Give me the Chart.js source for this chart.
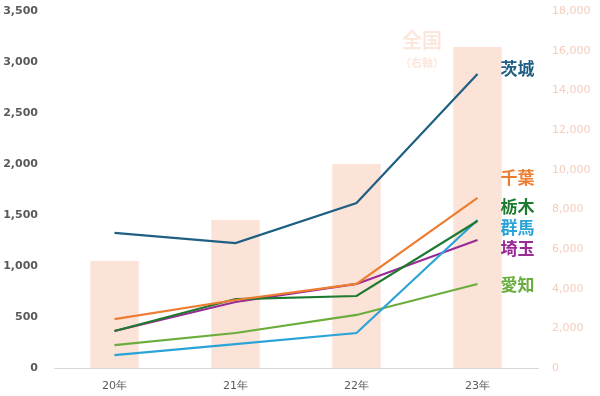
<!DOCTYPE html>
<html>
<head>
<meta charset="utf-8">
<script src="https://cdn.jsdelivr.net/npm/chart.js@4/dist/chart.umd.min.js"></script>
<style>
body { margin: 0; background: #fff; }
#wrap { width: 600px; height: 396px; }
</style>
</head>
<body>
<div id="wrap"><canvas id="c1"></canvas></div>
<script>
var years = ['20年', '21年', '22年', '23年'];
var zenkoku = [5400, 7460, 10290, 16190];
var ibaraki = [1324, 1225, 1618, 2882];
var chiba = [480, 667, 824, 1667];
var tochigi = [363, 676, 706, 1441];
var gunma = [127, 235, 343, 1451];
var saitama = [363, 647, 824, 1255];
var aichi = [225, 343, 520, 824];

var names = ['茨城', '千葉', '栃木', '群馬', '埼玉', '愛知'];
var colors = ['#1f5f82', '#ed7d31', '#1e7a2e', '#2ba3d6', '#9a2a96', '#6aad3d'];
var series = [ibaraki, chiba, tochigi, gunma, saitama, aichi];
// label y pixel (spread out so they don't overlap)
var labelY = [69, 178, 207, 228, 249, 285];

var datasets = [];
for (var i = 0; i < series.length; i++) {
  datasets.push({
    type: 'line', label: names[i], data: series[i], yAxisID: 'y',
    borderColor: colors[i], backgroundColor: colors[i],
    borderWidth: 2.2, pointRadius: 0, tension: 0, order: 1
  });
}
datasets.push({
  type: 'bar', label: '全国', data: zenkoku, yAxisID: 'y2',
  backgroundColor: '#fbe3d8', barPercentage: 0.4, categoryPercentage: 1.0, order: 2
});

var labelPlugin = {
  id: 'labels',
  afterDatasetsDraw: function(chart) {
    var ctx = chart.ctx;
    var xs = chart.scales.x;
    var lastX = xs.getPixelForValue(years.length - 1);
    ctx.save();
    ctx.textBaseline = 'middle';
    ctx.textAlign = 'left';
    ctx.font = 'bold 17px "Noto Sans CJK JP"';
    for (var i = 0; i < names.length; i++) {
      ctx.fillStyle = colors[i];
      ctx.fillText(names[i], lastX + 23, labelY[i]);
    }
    ctx.restore();
  },
  beforeDatasetsDraw: function(chart) {
    var ctx = chart.ctx;
    ctx.save();
    ctx.textAlign = 'center';
    ctx.textBaseline = 'middle';
    ctx.fillStyle = '#fce7de';
    ctx.font = 'bold 20px "Noto Sans CJK JP"';
    ctx.fillText('全国', 422, 40);
    ctx.font = 'bold 11px "Noto Sans CJK JP"';
    ctx.fillText('（右軸）', 422, 63);
    ctx.restore();
  }
};

function fitY(w) {
  return function(s) { s.width = w; s.paddingTop = 0; s.paddingBottom = 0; };
}

new Chart(document.getElementById('c1'), {
  type: 'bar',
  data: { labels: years, datasets: datasets },
  plugins: [labelPlugin],
  options: {
    responsive: true,
    maintainAspectRatio: false,
    animation: false,
    layout: { padding: { top: 11, left: 0, right: 0, bottom: 0 } },
    plugins: { legend: { display: false }, tooltip: { enabled: false } },
    scales: {
      x: {
        offset: true,
        grid: { display: false, drawTicks: false },
        border: { color: '#d9d9d9', width: 1 },
        ticks: { color: '#595959', padding: 12, font: { family: 'DejaVu Sans', size: 11 } },
        afterFit: function(s) { s.height = 28; s.paddingLeft = 0; s.paddingRight = 0; }
      },
      y: {
        position: 'left', min: 0, max: 3500,
        grid: { display: false, drawTicks: false },
        border: { display: false },
        ticks: { stepSize: 500, color: '#595959', padding: 16,
          font: { family: 'DejaVu Sans', size: 11, weight: 'bold' },
          callback: function(v) { return v.toLocaleString('en-US'); } },
        afterFit: fitY(54)
      },
      y2: {
        position: 'right', min: 0, max: 18000,
        grid: { display: false, drawTicks: false },
        border: { display: false },
        ticks: { stepSize: 2000, color: '#f3cdbd', padding: 14,
          font: { family: 'DejaVu Sans', size: 11 },
          callback: function(v) { return v.toLocaleString('en-US'); } },
        afterFit: fitY(62)
      }
    }
  }
});
</script>
</body>
</html>
